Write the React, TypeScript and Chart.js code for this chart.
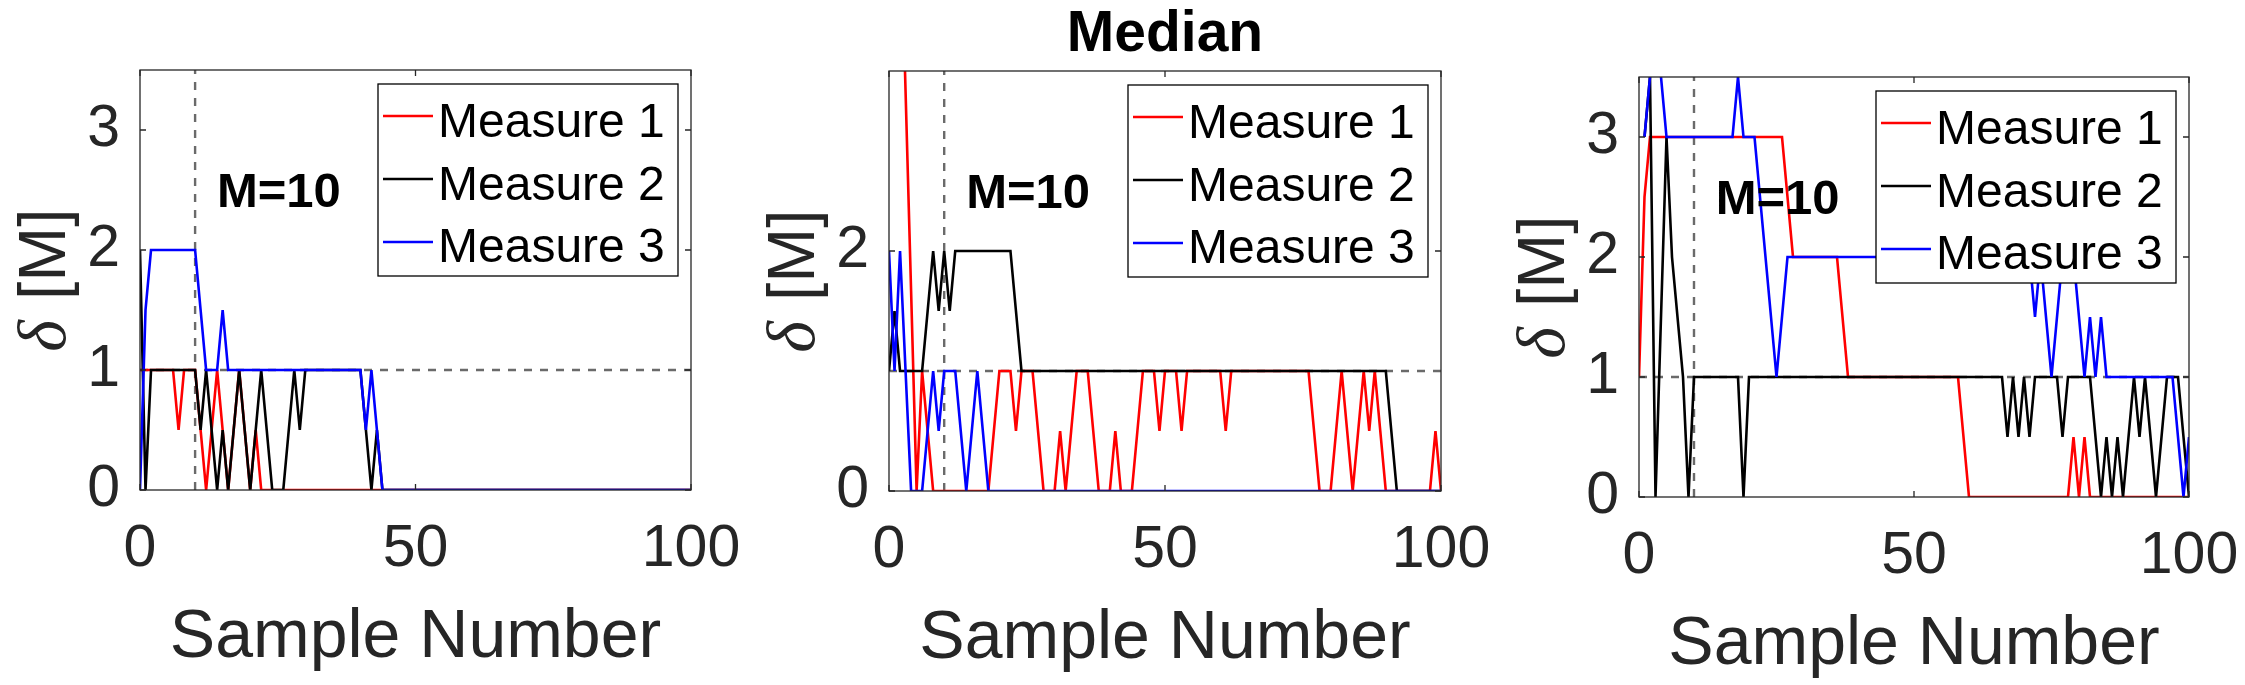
import { useEffect, useRef } from 'react';
import { Chart, registerables } from 'chart.js';
import type { Plugin } from 'chart.js';

Chart.register(...registerables);

// sample numbers 0..100 on the x axis
const samples = Array.from({ length: 101 }, (_, i) => i);
const xTicks = [0, 50, 100];
const seriesNames = ['Measure 1', 'Measure 2', 'Measure 3'];
const seriesColors = ['#ff0000', '#000000', '#0000ff'];
const windowSize = 10; // vertical dashed line, "M=10"
const threshold = 1; // horizontal dashed line

// left panel
const leftMeasure1 = [
  1, 1, 1, 1, 1, 1, 1, 0.5, 1, 1,
  1, 0.5, 0, 0.5, 1, 0.5, 0, 0.5, 1, 0.5,
  0, 0.5, 0, 0, 0, 0, 0, 0, 0, 0,
  0, 0, 0, 0, 0, 0, 0, 0, 0, 0,
  0, 0, 0, 0, 0, 0, 0, 0, 0, 0,
  0, 0, 0, 0, 0, 0, 0, 0, 0, 0,
  0, 0, 0, 0, 0, 0, 0, 0, 0, 0,
  0, 0, 0, 0, 0, 0, 0, 0, 0, 0,
  0, 0, 0, 0, 0, 0, 0, 0, 0, 0,
  0, 0, 0, 0, 0, 0, 0, 0, 0, 0,
  0,
];
const leftMeasure2 = [
  2, 0, 1, 1, 1, 1, 1, 1, 1, 1,
  1, 0.5, 1, 0.5, 0, 0.5, 0, 0.5, 1, 0.5,
  0, 0.5, 1, 0.5, 0, 0, 0, 0.5, 1, 0.5,
  1, 1, 1, 1, 1, 1, 1, 1, 1, 1,
  1, 0.5, 0, 0.5, 0, 0, 0, 0, 0, 0,
  0, 0, 0, 0, 0, 0, 0, 0, 0, 0,
  0, 0, 0, 0, 0, 0, 0, 0, 0, 0,
  0, 0, 0, 0, 0, 0, 0, 0, 0, 0,
  0, 0, 0, 0, 0, 0, 0, 0, 0, 0,
  0, 0, 0, 0, 0, 0, 0, 0, 0, 0,
  0,
];
const leftMeasure3 = [
  0, 1.5, 2, 2, 2, 2, 2, 2, 2, 2,
  2, 1.5, 1, 1, 1, 1.5, 1, 1, 1, 1,
  1, 1, 1, 1, 1, 1, 1, 1, 1, 1,
  1, 1, 1, 1, 1, 1, 1, 1, 1, 1,
  1, 0.5, 1, 0.5, 0, 0, 0, 0, 0, 0,
  0, 0, 0, 0, 0, 0, 0, 0, 0, 0,
  0, 0, 0, 0, 0, 0, 0, 0, 0, 0,
  0, 0, 0, 0, 0, 0, 0, 0, 0, 0,
  0, 0, 0, 0, 0, 0, 0, 0, 0, 0,
  0, 0, 0, 0, 0, 0, 0, 0, 0, 0,
  0,
];

// middle panel (Median)
const medianMeasure1 = [
  8.5, 6.7, 5, 3.33, 1.67, 0, 1, 0.5, 0, 0,
  0, 0, 0, 0, 0, 0, 0, 0, 0, 0.5,
  1, 1, 1, 0.5, 1, 1, 1, 0.5, 0, 0,
  0, 0.5, 0, 0.5, 1, 1, 1, 0.5, 0, 0,
  0, 0.5, 0, 0, 0, 0.5, 1, 1, 1, 0.5,
  1, 1, 1, 0.5, 1, 1, 1, 1, 1, 1,
  1, 0.5, 1, 1, 1, 1, 1, 1, 1, 1,
  1, 1, 1, 1, 1, 1, 1, 0.5, 0, 0,
  0, 0.5, 1, 0.5, 0, 0.5, 1, 0.5, 1, 0.5,
  0, 0, 0, 0, 0, 0, 0, 0, 0, 0.5,
  0,
];
const medianMeasure2 = [
  1, 1.5, 1, 1, 1, 1, 1, 1.5, 2, 1.5,
  2, 1.5, 2, 2, 2, 2, 2, 2, 2, 2,
  2, 2, 2, 1.5, 1, 1, 1, 1, 1, 1,
  1, 1, 1, 1, 1, 1, 1, 1, 1, 1,
  1, 1, 1, 1, 1, 1, 1, 1, 1, 1,
  1, 1, 1, 1, 1, 1, 1, 1, 1, 1,
  1, 1, 1, 1, 1, 1, 1, 1, 1, 1,
  1, 1, 1, 1, 1, 1, 1, 1, 1, 1,
  1, 1, 1, 1, 1, 1, 1, 1, 1, 1,
  1, 0.5, 0, 0, 0, 0, 0, 0, 0, 0,
  0,
];
const medianMeasure3 = [
  2, 1, 2, 1, 0, 0, 0, 0.5, 1, 0.5,
  1, 1, 1, 0.5, 0, 0.5, 1, 0.5, 0, 0,
  0, 0, 0, 0, 0, 0, 0, 0, 0, 0,
  0, 0, 0, 0, 0, 0, 0, 0, 0, 0,
  0, 0, 0, 0, 0, 0, 0, 0, 0, 0,
  0, 0, 0, 0, 0, 0, 0, 0, 0, 0,
  0, 0, 0, 0, 0, 0, 0, 0, 0, 0,
  0, 0, 0, 0, 0, 0, 0, 0, 0, 0,
  0, 0, 0, 0, 0, 0, 0, 0, 0, 0,
  0, 0, 0, 0, 0, 0, 0, 0, 0, 0,
  0,
];

// right panel
const rightMeasure1 = [
  1, 2.5, 3, 3, 3, 3, 3, 3, 3, 3,
  3, 3, 3, 3, 3, 3, 3, 3, 3, 3,
  3, 3, 3, 3, 3, 3, 3, 2.5, 2, 2,
  2, 2, 2, 2, 2, 2, 2, 1.5, 1, 1,
  1, 1, 1, 1, 1, 1, 1, 1, 1, 1,
  1, 1, 1, 1, 1, 1, 1, 1, 1, 0.5,
  0, 0, 0, 0, 0, 0, 0, 0, 0, 0,
  0, 0, 0, 0, 0, 0, 0, 0, 0, 0.5,
  0, 0.5, 0, 0, 0, 0, 0, 0, 0, 0,
  0, 0, 0, 0, 0, 0, 0, 0, 0, 0,
  0,
];
const rightMeasure2 = [
  null, 3, 3.5, 0, 1.5, 3, 2, 1.5, 1, 0,
  1, 1, 1, 1, 1, 1, 1, 1, 1, 0,
  1, 1, 1, 1, 1, 1, 1, 1, 1, 1,
  1, 1, 1, 1, 1, 1, 1, 1, 1, 1,
  1, 1, 1, 1, 1, 1, 1, 1, 1, 1,
  1, 1, 1, 1, 1, 1, 1, 1, 1, 1,
  1, 1, 1, 1, 1, 1, 1, 0.5, 1, 0.5,
  1, 0.5, 1, 1, 1, 1, 1, 0.5, 1, 1,
  1, 1, 1, 0.5, 0, 0.5, 0, 0.5, 0, 0.5,
  1, 0.5, 1, 0.5, 0, 0.5, 1, 1, 1, 0.5,
  0,
];
const rightMeasure3 = [
  null, 3, 3.5, 4, 3.5, 3, 3, 3, 3, 3,
  3, 3, 3, 3, 3, 3, 3, 3, 3.5, 3,
  3, 3, 2.5, 2, 1.5, 1, 1.5, 2, 2, 2,
  2, 2, 2, 2, 2, 2, 2, 2, 2, 2,
  2, 2, 2, 2, 2, 2, 2, 2, 2, 2,
  2, 2, 2, 2, 2, 2, 2, 2, 2, 2,
  2, 2, 2, 2, 2, 2, 2, 2, 2, 2,
  2, 2, 1.5, 2, 1.5, 1, 1.5, 2, 2, 2,
  1.5, 1, 1.5, 1, 1.5, 1, 1, 1, 1, 1,
  1, 1, 1, 1, 1, 1, 1, 1, 0.5, 0,
  0.5,
];

interface PanelSpec {
  left: number;
  width: number;
  plotLeft: number;
  plotRight: number;
  plotTop: number;
  plotBottom: number;
  title: string;
  yTicks: number[];
  series: (number | null)[][];
}

const HEIGHT = 685;
const SANS = "'Liberation Sans', Arial, Helvetica, sans-serif";
const AXIS_COLOR = '#262626';

const panels: PanelSpec[] = [
  {
    left: 0, width: 748, plotLeft: 140, plotRight: 691, plotTop: 70, plotBottom: 490,
    title: '', yTicks: [0, 1, 2, 3],
    series: [leftMeasure1, leftMeasure2, leftMeasure3],
  },
  {
    left: 748, width: 749, plotLeft: 141, plotRight: 693, plotTop: 71, plotBottom: 491,
    title: 'Median', yTicks: [0, 2],
    series: [medianMeasure1, medianMeasure2, medianMeasure3],
  },
  {
    left: 1497, width: 748, plotLeft: 142, plotRight: 692, plotTop: 77, plotBottom: 497,
    title: '', yTicks: [0, 1, 2, 3],
    series: [rightMeasure1, rightMeasure2, rightMeasure3],
  },
];

function decorPlugin(panel: PanelSpec): Plugin<'line'> {
  return {
    id: 'decor',
    beforeDatasetsDraw(chart) {
      const { ctx, chartArea: a, scales } = chart;
      const xv = scales.x.getPixelForValue(windowSize);
      const yv = scales.y.getPixelForValue(threshold);
      ctx.save();
      ctx.beginPath();
      ctx.rect(a.left, a.top, a.right - a.left, a.bottom - a.top);
      ctx.clip();
      ctx.strokeStyle = '#6a6a6a';
      ctx.lineWidth = 2.4;
      ctx.setLineDash([8, 8]);
      ctx.beginPath();
      ctx.moveTo(xv, a.bottom);
      ctx.lineTo(xv, a.top);
      ctx.moveTo(a.left, yv);
      ctx.lineTo(a.right, yv);
      ctx.stroke();
      ctx.restore();
    },
    afterDatasetsDraw(chart) {
      const { ctx, chartArea: a, scales } = chart;
      ctx.save();
      // M=10 label
      ctx.fillStyle = '#000';
      ctx.font = `bold 49px ${SANS}`;
      ctx.textAlign = 'center';
      ctx.textBaseline = 'middle';
      ctx.fillText(
        `M=${windowSize}`,
        scales.x.getPixelForValue(25.2),
        scales.y.getPixelForValue(2.47),
      );

      // legend box
      const bw = 300;
      const bh = 192;
      const bx = a.right - 13 - bw;
      const by = a.top + 14;
      ctx.fillStyle = '#fff';
      ctx.fillRect(bx, by, bw, bh);
      ctx.strokeStyle = '#000';
      ctx.lineWidth = 1.3;
      ctx.strokeRect(bx, by, bw, bh);
      ctx.font = `48px ${SANS}`;
      ctx.textAlign = 'left';
      ctx.textBaseline = 'alphabetic';
      seriesNames.forEach((name, i) => {
        const ly = by + 32 + 63 * i;
        ctx.strokeStyle = seriesColors[i];
        ctx.lineWidth = 2.5;
        ctx.beginPath();
        ctx.moveTo(bx + 5, ly);
        ctx.lineTo(bx + 55, ly);
        ctx.stroke();
        ctx.fillStyle = '#000';
        ctx.fillText(name, bx + 60, by + 53 + 62.5 * i);
      });
      ctx.restore();
    },
    afterDraw(chart) {
      const { ctx, chartArea: a, scales } = chart;
      ctx.save();
      // axes box and inward ticks
      ctx.strokeStyle = AXIS_COLOR;
      ctx.lineWidth = 1.3;
      ctx.strokeRect(a.left, a.top, a.right - a.left, a.bottom - a.top);
      ctx.beginPath();
      xTicks.forEach((v) => {
        const px = scales.x.getPixelForValue(v);
        ctx.moveTo(px, a.bottom);
        ctx.lineTo(px, a.bottom - 6);
        ctx.moveTo(px, a.top);
        ctx.lineTo(px, a.top + 6);
      });
      panel.yTicks.forEach((v) => {
        const py = scales.y.getPixelForValue(v);
        ctx.moveTo(a.left, py);
        ctx.lineTo(a.left + 6, py);
        ctx.moveTo(a.right, py);
        ctx.lineTo(a.right - 6, py);
      });
      ctx.stroke();

      // x axis title
      ctx.fillStyle = AXIS_COLOR;
      ctx.font = `68px ${SANS}`;
      ctx.textAlign = 'center';
      ctx.textBaseline = 'alphabetic';
      ctx.fillText('Sample Number', (a.left + a.right) / 2, a.bottom + 167);

      // y axis title: italic delta, then [M]
      ctx.save();
      ctx.translate(a.left - 75, (a.top + a.bottom) / 2);
      ctx.rotate(-Math.PI / 2);
      const deltaFont = "italic 68px 'Liberation Serif', 'DejaVu Serif', serif";
      const bracketFont = `66px ${SANS}`;
      ctx.font = deltaFont;
      const dw = ctx.measureText('δ').width;
      ctx.font = bracketFont;
      const mw = ctx.measureText('[M]').width;
      const gap = 20;
      const x0 = -(dw + gap + mw) / 2;
      ctx.textAlign = 'left';
      ctx.font = deltaFont;
      ctx.fillText('δ', x0, 0);
      ctx.font = bracketFont;
      ctx.fillText('[M]', x0 + dw + gap, 0);
      ctx.restore();

      if (panel.title) {
        ctx.fillStyle = '#000';
        ctx.font = `bold 57px ${SANS}`;
        ctx.textAlign = 'center';
        ctx.textBaseline = 'alphabetic';
        ctx.fillText(panel.title, (a.left + a.right) / 2, 51);
      }
      ctx.restore();
    },
  };
}

function Panel({ panel }: { panel: PanelSpec }) {
  const canvasRef = useRef<HTMLCanvasElement | null>(null);

  useEffect(() => {
    if (!canvasRef.current) {
      return;
    }
    const tickFont = { family: SANS, size: 59 };
    const chart = new Chart(canvasRef.current, {
      type: 'line',
      data: {
        labels: samples,
        datasets: panel.series.map((values, i) => ({
          label: seriesNames[i],
          data: values,
          borderColor: seriesColors[i],
          backgroundColor: seriesColors[i],
          borderWidth: 2.6,
          pointRadius: 0,
          tension: 0,
          spanGaps: false,
          order: 2 - i,
        })),
      },
      options: {
        responsive: false,
        animation: false,
        devicePixelRatio: 1,
        layout: {
          padding: {
            left: 0,
            top: panel.plotTop,
            right: panel.width - panel.plotRight,
            bottom: 0,
          },
        },
        plugins: {
          legend: { display: false },
          tooltip: { enabled: false },
        },
        scales: {
          x: {
            type: 'linear',
            min: 0,
            max: 100,
            afterBuildTicks: (scale) => {
              scale.ticks = xTicks.map((value) => ({ value }));
            },
            afterFit: (scale) => {
              scale.height = HEIGHT - panel.plotBottom;
              scale.paddingLeft = 0;
              scale.paddingRight = 0;
            },
            grid: { display: false, drawTicks: false },
            border: { display: false },
            ticks: {
              padding: 24,
              font: tickFont,
              color: AXIS_COLOR,
              maxRotation: 0,
              autoSkip: false,
            },
          },
          y: {
            min: 0,
            max: 3.5,
            afterBuildTicks: (scale) => {
              scale.ticks = panel.yTicks.map((value) => ({ value }));
            },
            afterFit: (scale) => {
              scale.width = panel.plotLeft;
              scale.paddingTop = 0;
              scale.paddingBottom = 0;
            },
            grid: { display: false, drawTicks: false },
            border: { display: false },
            ticks: {
              padding: 20,
              font: tickFont,
              color: AXIS_COLOR,
              autoSkip: false,
            },
          },
        },
      },
      plugins: [decorPlugin(panel)],
    });

    return () => {
      chart.destroy();
    };
  }, [panel]);

  return (
    <canvas
      ref={canvasRef}
      width={panel.width}
      height={HEIGHT}
      style={{
        position: 'absolute',
        left: panel.left,
        top: 0,
        width: panel.width,
        height: HEIGHT,
      }}
    />
  );
}

export default function App() {
  return (
    <div
      style={{
        position: 'absolute',
        left: 0,
        top: 0,
        width: 2245,
        height: HEIGHT,
        background: '#fff',
      }}
    >
      {panels.map((panel, i) => (
        <Panel key={i} panel={panel} />
      ))}
    </div>
  );
}
